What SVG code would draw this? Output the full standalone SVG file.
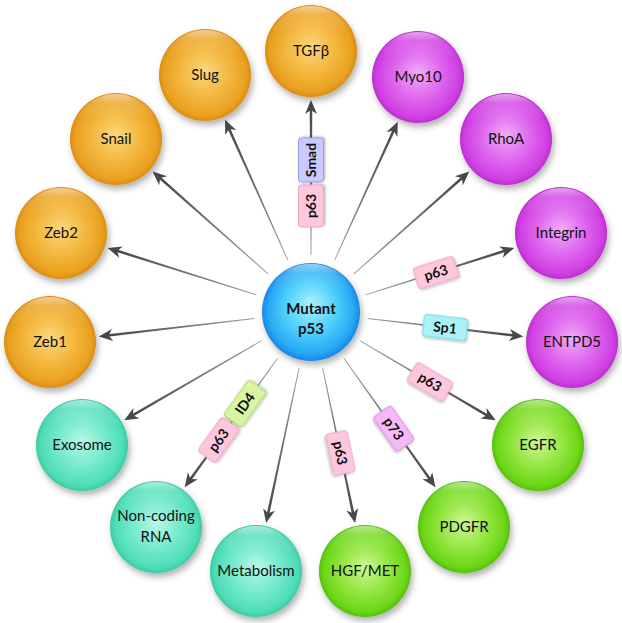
<svg xmlns="http://www.w3.org/2000/svg" xmlns:xlink="http://www.w3.org/1999/xlink" width="622" height="623" viewBox="0 0 622 623">
<defs>
<radialGradient id="gOrange" cx="50%" cy="50%" r="50%" fx="50%" fy="45%">
<stop offset="0" stop-color="#fbd77c"/><stop offset="0.55" stop-color="#f3b63c"/><stop offset="0.9" stop-color="#e9a020"/><stop offset="1" stop-color="#da8c12"/>
</radialGradient>
<radialGradient id="gMagenta" cx="50%" cy="50%" r="50%" fx="50%" fy="45%">
<stop offset="0" stop-color="#f2aaf8"/><stop offset="0.55" stop-color="#de64ee"/><stop offset="0.9" stop-color="#cf3fe2"/><stop offset="1" stop-color="#bd2dd0"/>
</radialGradient>
<radialGradient id="gTeal" cx="50%" cy="50%" r="50%" fx="50%" fy="45%">
<stop offset="0" stop-color="#b8f8e6"/><stop offset="0.55" stop-color="#72e9ca"/><stop offset="0.9" stop-color="#4edcb7"/><stop offset="1" stop-color="#3cc9a4"/>
</radialGradient>
<radialGradient id="gGreen" cx="50%" cy="50%" r="50%" fx="50%" fy="45%">
<stop offset="0" stop-color="#ccf696"/><stop offset="0.55" stop-color="#92e53e"/><stop offset="0.9" stop-color="#6bd616"/><stop offset="1" stop-color="#56be0a"/>
</radialGradient>
<radialGradient id="gBlue" cx="50%" cy="50%" r="50%" fx="50%" fy="40%">
<stop offset="0" stop-color="#aef0ff"/><stop offset="0.5" stop-color="#52d2fc"/><stop offset="0.88" stop-color="#26a8f3"/><stop offset="1" stop-color="#1b86e6"/>
</radialGradient>
<linearGradient id="gGloss" x1="0" y1="0" x2="0" y2="1">
<stop offset="0" stop-color="#fff" stop-opacity="0.55"/><stop offset="0.1" stop-color="#fff" stop-opacity="0.15"/><stop offset="0.3" stop-color="#fff" stop-opacity="0"/>
</linearGradient>
<linearGradient id="gShaft" x1="0" y1="0" x2="1" y2="0">
<stop offset="0" stop-color="#a0a0a0"/><stop offset="1" stop-color="#484848"/>
</linearGradient>
<filter id="shadow" x="-30%" y="-30%" width="160%" height="170%">
<feDropShadow dx="2" dy="4" stdDeviation="3" flood-color="#000" flood-opacity="0.3"/>
</filter>
<filter id="bshadow" x="-30%" y="-50%" width="160%" height="200%">
<feDropShadow dx="1" dy="1.5" stdDeviation="1" flood-color="#000" flood-opacity="0.25"/>
</filter>
<path id="shaft" d="M0,-0.45 L1,-1.3 L1,1.3 L0,0.45 Z" fill="url(#gShaft)"/>
<path id="head" d="M0,0 L-14,-6 L-10,0 L-14,6 Z" fill="#484848"/>
<circle id="gloss" r="45" fill="url(#gGloss)"/>
</defs>
<style>
.node text{font-family:Lato,"Open Sans","Liberation Sans",sans-serif;font-size:15px;fill:#111;text-anchor:middle}
.orange{fill:url(#gOrange)}
.magenta{fill:url(#gMagenta)}
.teal{fill:url(#gTeal)}
.green{fill:url(#gGreen)}
.blue{fill:url(#gBlue)}
.sph{filter:url(#shadow)}
.lbl rect{filter:url(#bshadow);stroke-width:1}
.lbl text{font-family:Lato,"Open Sans","Liberation Sans",sans-serif;font-size:14px;font-weight:bold;fill:#111;text-anchor:middle}
.pink{fill:#ffc7dd;stroke:#e9a3c2}
.lav{fill:#cacaff;stroke:#9c9ce6}
.cyan{fill:#a9f3f8;stroke:#6fd6e0}
.lime{fill:#d9f5a2;stroke:#a8d76a}
.violet{fill:#f4b9f6;stroke:#d78ade}
</style>
<rect width="622" height="623" fill="#ffffff"/>

<g id="connectors">
<g transform="translate(311 312) rotate(-90)"><use href="#shaft" transform="translate(57 0) scale(146 1)"/><use href="#head" x="212"/></g>
<g transform="translate(311 312) rotate(-114.1)"><use href="#shaft" transform="translate(57 0) scale(144.6 1)"/><use href="#head" x="210.6"/></g>
<g transform="translate(311 312) rotate(-138.4)"><use href="#shaft" transform="translate(57 0) scale(145.7 1)"/><use href="#head" x="211.7"/></g>
<g transform="translate(311 312) rotate(-162.5)"><use href="#shaft" transform="translate(57 0) scale(147.2 1)"/><use href="#head" x="213.2"/></g>
<g transform="translate(311 312) rotate(173.4)"><use href="#shaft" transform="translate(57 0) scale(147.7 1)"/><use href="#head" x="213.7"/></g>
<g transform="translate(311 312) rotate(149.9)"><use href="#shaft" transform="translate(57 0) scale(149.8 1)"/><use href="#head" x="215.8"/></g>
<g transform="translate(311 312) rotate(125.8)"><use href="#shaft" transform="translate(57 0) scale(150 1)"/><use href="#head" x="216"/></g>
<g transform="translate(311 312) rotate(102)"><use href="#shaft" transform="translate(57 0) scale(149.8 1)"/><use href="#head" x="215.8"/></g>
<g transform="translate(311 312) rotate(78.2)"><use href="#shaft" transform="translate(57 0) scale(149.6 1)"/><use href="#head" x="215.6"/></g>
<g transform="translate(311 312) rotate(54.6)"><use href="#shaft" transform="translate(57 0) scale(148.9 1)"/><use href="#head" x="214.9"/></g>
<g transform="translate(311 312) rotate(30.4)"><use href="#shaft" transform="translate(57 0) scale(148.1 1)"/><use href="#head" x="214.1"/></g>
<g transform="translate(311 312) rotate(6.6)"><use href="#shaft" transform="translate(57 0) scale(147.7 1)"/><use href="#head" x="213.7"/></g>
<g transform="translate(311 312) rotate(-17.5)"><use href="#shaft" transform="translate(57 0) scale(147.2 1)"/><use href="#head" x="213.2"/></g>
<g transform="translate(311 312) rotate(-41.6)"><use href="#shaft" transform="translate(57 0) scale(145.7 1)"/><use href="#head" x="211.7"/></g>
<g transform="translate(311 312) rotate(-65.5)"><use href="#shaft" transform="translate(57 0) scale(143.2 1)"/><use href="#head" x="209.2"/></g>
</g>

<g id="labels">
<g class="lbl" transform="translate(311 312) rotate(-90) translate(152 0)"><rect class="lav" x="-22" y="-12.5" width="44" height="25" rx="3"/><text y="5">Smad</text></g>
<g class="lbl" transform="translate(311 312) rotate(-90) translate(106 0)"><rect class="pink" x="-21" y="-12.5" width="42" height="25" rx="3"/><text y="5">p63</text></g>
<g class="lbl" transform="translate(311 312) rotate(-17.5) translate(131 0)"><rect class="pink" x="-21" y="-11" width="42" height="22" rx="3"/><text y="5">p63</text></g>
<g class="lbl" transform="translate(311 312) rotate(6.6) translate(135 0)"><rect class="cyan" x="-22" y="-11" width="44" height="22" rx="3"/><text y="5">Sp1</text></g>
<g class="lbl" transform="translate(311 312) rotate(30.4) translate(138 0)"><rect class="pink" x="-21" y="-11" width="42" height="22" rx="3"/><text y="5">p63</text></g>
<g class="lbl" transform="translate(311 312) rotate(54.6) translate(143 0)"><rect class="violet" x="-21" y="-11" width="42" height="22" rx="3"/><text y="5">p73</text></g>
<g class="lbl" transform="translate(311 312) rotate(78.2) translate(144 0)"><rect class="pink" x="-21" y="-11" width="42" height="22" rx="3"/><text y="5">p63</text></g>
<g class="lbl" transform="translate(311 312) rotate(125.8) translate(113 0) rotate(180)"><rect class="lime" x="-22" y="-11" width="44" height="22" rx="3"/><text y="5">ID4</text></g>
<g class="lbl" transform="translate(311 312) rotate(125.8) translate(158 0) rotate(180)"><rect class="pink" x="-21" y="-11" width="42" height="22" rx="3"/><text y="5">p63</text></g>
</g>

<g id="nodes">
<g id="n-tgfb" class="node" transform="translate(311 51)"><circle class="sph orange" r="46"/><use href="#gloss"/><text y="5">TGFβ</text></g>
<g id="n-slug" class="node" transform="translate(205 75)"><circle class="sph orange" r="46"/><use href="#gloss"/><text y="5">Slug</text></g>
<g id="n-snail" class="node" transform="translate(116 139)"><circle class="sph orange" r="46"/><use href="#gloss"/><text y="5">Snail</text></g>
<g id="n-zeb2" class="node" transform="translate(61 233)"><circle class="sph orange" r="46"/><use href="#gloss"/><text y="5">Zeb2</text></g>
<g id="n-zeb1" class="node" transform="translate(50 342)"><circle class="sph orange" r="46"/><use href="#gloss"/><text y="5">Zeb1</text></g>
<g id="n-exosome" class="node" transform="translate(82 445)"><circle class="sph teal" r="46"/><use href="#gloss"/><text y="5">Exosome</text></g>
<g id="n-ncrna" class="node" transform="translate(156 527)"><circle class="sph teal" r="46"/><use href="#gloss"/><text y="-6">Non-coding</text><text y="15">RNA</text></g>
<g id="n-metabolism" class="node" transform="translate(256 571)"><circle class="sph teal" r="46"/><use href="#gloss"/><text y="5">Metabolism</text></g>
<g id="n-hgfmet" class="node" transform="translate(365 571)"><circle class="sph green" r="46"/><use href="#gloss"/><text y="5">HGF/MET</text></g>
<g id="n-pdgfr" class="node" transform="translate(464 527)"><circle class="sph green" r="46"/><use href="#gloss"/><text y="5">PDGFR</text></g>
<g id="n-egfr" class="node" transform="translate(538 445)"><circle class="sph green" r="46"/><use href="#gloss"/><text y="5">EGFR</text></g>
<g id="n-entpd5" class="node" transform="translate(572 342)"><circle class="sph magenta" r="46"/><use href="#gloss"/><text y="5">ENTPD5</text></g>
<g id="n-integrin" class="node" transform="translate(561 233)"><circle class="sph magenta" r="46"/><use href="#gloss"/><text y="5">Integrin</text></g>
<g id="n-rhoa" class="node" transform="translate(506 139)"><circle class="sph magenta" r="46"/><use href="#gloss"/><text y="5">RhoA</text></g>
<g id="n-myo10" class="node" transform="translate(418 77)"><circle class="sph magenta" r="46"/><use href="#gloss"/><text y="5">Myo10</text></g>
<g id="n-p53" class="node" transform="translate(311 312)"><circle class="sph blue" r="49"/><use href="#gloss" transform="scale(1.07)"/><text y="2" font-weight="bold" font-size="17">Mutant</text><text y="22" font-weight="bold" font-size="17">p53</text></g>
</g>
</svg>
